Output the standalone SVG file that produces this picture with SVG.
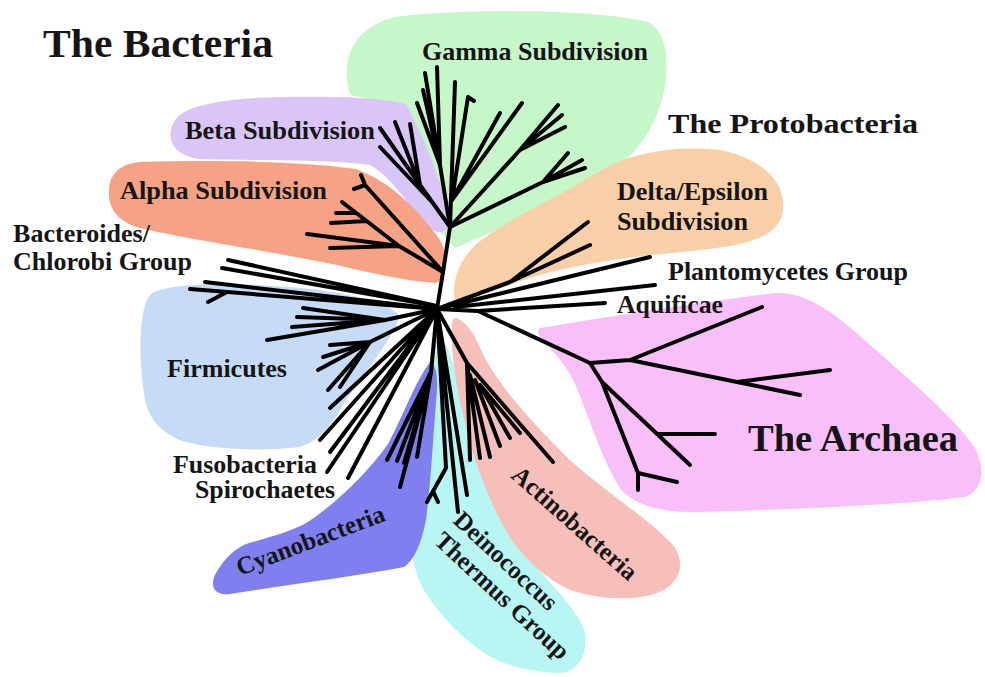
<svg xmlns="http://www.w3.org/2000/svg" width="985" height="677" viewBox="0 0 985 677">
<style>
text{font-family:"Liberation Serif","Times New Roman",serif;font-weight:bold;fill:#151515;}
.lbl{font-size:25px;}
.big{font-size:40px;}
.t{fill:none;stroke:#000;stroke-width:4;stroke-linecap:round;stroke-linejoin:round;}
</style>
<rect width="985" height="677" fill="#fff"/>
<g id="title-bacteria"><text class="big" x="43" y="57" textLength="230" lengthAdjust="spacingAndGlyphs">The Bacteria</text></g>
<g id="gamma">
<path fill="#c6f7c8" d="M350,95 C340,60 352,28 395,17 C470,8 590,9 648,22 C672,34 670,80 658,112 C645,145 625,162 605,178 C570,198 510,225 455,248 L440,232 C425,190 410,140 385,102 Z"/>
<text class="lbl" x="422" y="60" textLength="226" lengthAdjust="spacingAndGlyphs">Gamma Subdivision</text>
</g>
<g id="beta">
<path fill="#d9c5f7" d="M175,120 C186,104 230,98 280,97 C330,96 380,97 406,104 C426,140 440,180 451,220 C447,236 436,234 426,226 C405,200 392,178 370,165 C320,158 250,161 200,159 C171,156 165,136 175,120 Z"/>
<text class="lbl" x="185" y="139" textLength="190" lengthAdjust="spacingAndGlyphs">Beta Subdivision</text>
</g>
<g id="alpha">
<path fill="#f5a285" d="M109,195 C108,176 118,164 140,162 C220,160 300,161 356,169 C392,182 420,212 440,240 C449,258 449,276 436,283 C400,281 362,270 322,262 C262,250 192,240 140,228 C116,221 109,207 109,195 Z"/>
<text class="lbl" x="120" y="199" textLength="207" lengthAdjust="spacingAndGlyphs">Alpha Subdivision</text>
</g>
<g id="delta">
<path fill="#f9cfa7" d="M455,300 C451,280 460,258 480,241 C510,218 560,196 600,171 C630,152 680,145 720,150 C760,158 786,180 783,210 C780,236 750,245 700,250 C640,256 580,262 530,278 C500,288 475,298 455,300 Z"/>
<text class="lbl" x="617" y="200" textLength="151" lengthAdjust="spacingAndGlyphs">Delta/Epsilon</text>
<text class="lbl" x="617" y="230" textLength="131" lengthAdjust="spacingAndGlyphs">Subdivision</text>
</g>
<g id="protobacteria"><text x="668" y="133" font-size="28" textLength="250" lengthAdjust="spacingAndGlyphs">The Protobacteria</text></g>
<g id="bacteroides">
<text class="lbl" x="13" y="242" textLength="137" lengthAdjust="spacingAndGlyphs">Bacteroides/</text>
<text class="lbl" x="13" y="270" textLength="179" lengthAdjust="spacingAndGlyphs">Chlorobi Group</text>
</g>
<g id="firmicutes">
<path fill="#c6dcf6" d="M160,290 C190,281 260,283 320,290 C360,296 390,304 400,316 C392,340 365,372 345,402 C333,422 322,440 300,447 C260,452 210,449 182,441 C160,432 150,420 145,400 C140,370 138,330 145,305 C148,295 152,292 160,290 Z"/>
<text class="lbl" x="167" y="377" textLength="120" lengthAdjust="spacingAndGlyphs">Firmicutes</text>
</g>
<g id="fusobacteria">
<text class="lbl" x="173" y="473" textLength="144" lengthAdjust="spacingAndGlyphs">Fusobacteria</text>
<text class="lbl" x="195" y="498" textLength="140" lengthAdjust="spacingAndGlyphs">Spirochaetes</text>
</g>
<g id="deinococcus">
<path fill="#b8f6f4" d="M440,338 C450,345 455,370 461,400 C472,450 490,500 516,540 C540,575 570,600 583,626 C591,650 580,672 560,673 C530,672 500,665 480,650 C455,632 438,612 425,592 C412,570 408,540 412,500 C418,450 424,400 430,360 C432,345 436,338 440,338 Z"/>
<g transform="translate(452,522) rotate(43)">
<text class="lbl" x="0" y="0">Deinococcus</text>
<text class="lbl" x="0" y="28">Thermus Group</text>
</g>
</g>
<g id="cyanobacteria">
<path fill="#7f7ff0" d="M430,362 C438,366 438,382 436,402 C433,440 431,480 426,520 C421,545 414,560 404,567 C350,577 280,586 230,594 C214,596 209,586 216,573 C223,561 232,550 246,544 C270,537 290,532 308,522 C340,500 368,472 388,444 C404,414 415,382 430,362 Z"/>
<text class="lbl" transform="translate(240,576) rotate(-20.8)">Cyanobacteria</text>
</g>
<g id="actinobacteria">
<path fill="#f7bfb9" d="M456,318 C466,321 475,335 481,350 C500,390 540,430 572,462 C610,495 650,520 673,545 C686,562 680,581 664,590 C640,602 600,600 570,590 C540,576 515,550 500,520 C485,490 470,450 462,410 C455,380 450,345 452,326 C452,320 454,318 456,318 Z"/>
<text class="lbl" transform="translate(510,477) rotate(41.5)">Actinobacteria</text>
</g>
<g id="archaea">
<path fill="#f9bff9" d="M540,328 C600,318 700,302 776,293 C805,292 832,310 870,345 C910,380 955,418 975,448 C986,470 983,490 965,497 C900,505 780,510 700,512 C660,513 636,505 621,490 C602,460 590,420 576,386 C566,362 547,346 541,338 C537,333 537,330 540,328 Z"/>
<text x="748" y="451" font-size="37" textLength="210" lengthAdjust="spacingAndGlyphs">The Archaea</text>
</g>
<g id="plantomycetes"><text class="lbl" x="668" y="280" textLength="240" lengthAdjust="spacingAndGlyphs">Plantomycetes Group</text></g>
<g id="aquificae"><text class="lbl" x="617" y="313" textLength="106" lengthAdjust="spacingAndGlyphs">Aquificae</text></g>
<g id="tree" class="t">
<path d="M437,309 L443,272 L450,227"/>
<path d="M443,272 L365,185 M365,185 L354,189 M365,185 L361,175"/>
<path d="M443,272 L399,246 L307,234 M399,246 L330,248 M399,246 L342,202 M366,221 L331,223 M356,213 L336,213"/>
<path d="M450,227 L420,185 L380,128 M420,185 L395,122 M420,185 L410,124 M432,202 L380,147"/>
<path d="M450,227 L440,165 L425,73 M440,165 L437,67 M440,165 L417,103 M440,165 L423,90"/>
<path d="M450,227 L455,82 M452,200 L468,97 L474,101 M452,200 L500,113 M452,200 L522,103"/>
<path d="M450,227 L520,150 L558,105 M520,150 L562,115 M520,150 L565,127"/>
<path d="M450,227 L543,182 L568,153 M543,182 L582,160 M543,182 L585,168"/>
<path d="M437,309 L510,282 L588,222 M510,282 L590,245"/>
<path d="M437,309 L650,257 M455,307 L655,285"/>
<path d="M437,309 L478,311 L605,303 M478,311 L590,363"/>
<path d="M590,363 L630,360 L762,307 M630,360 L737,382 L830,370 M737,382 L800,395"/>
<path d="M590,363 L602,382 L690,465 M657,434 L715,434 M602,382 L638,473 L638,490 M638,473 L677,482"/>
<path d="M437,309 L467,363 L553,462 M467,363 L470,460 M467,363 L480,458 M470,375 L490,457 M475,380 L500,446 M480,385 L510,438 M480,385 L520,433"/>
<path d="M437,309 L467,495 M437,309 L458,512 M437,309 L446,468 L427,502 M433,491 L438,502"/>
<path d="M437,309 L431,372 L387,460 M431,372 L397,461 M431,372 L404,463 M431,372 L417,457 M431,372 L400,487"/>
<path d="M437,309 L330,408 M437,309 L320,440 M437,309 L330,452 M437,309 L327,472 M437,309 L348,478"/>
<path d="M437,309 L385,320 L303,308 M385,320 L297,317 M385,320 L292,327 M385,320 L267,340"/>
<path d="M437,309 L370,342 L330,345 M370,342 L323,357 M370,342 L318,370 M370,342 L328,390 M370,342 L340,387"/>
<path d="M437,309 L205,282 M437,309 L190,289 M227,292 L208,302"/>
<path d="M437,306 L228,260 M437,306 L222,268"/>
</g>
</svg>
